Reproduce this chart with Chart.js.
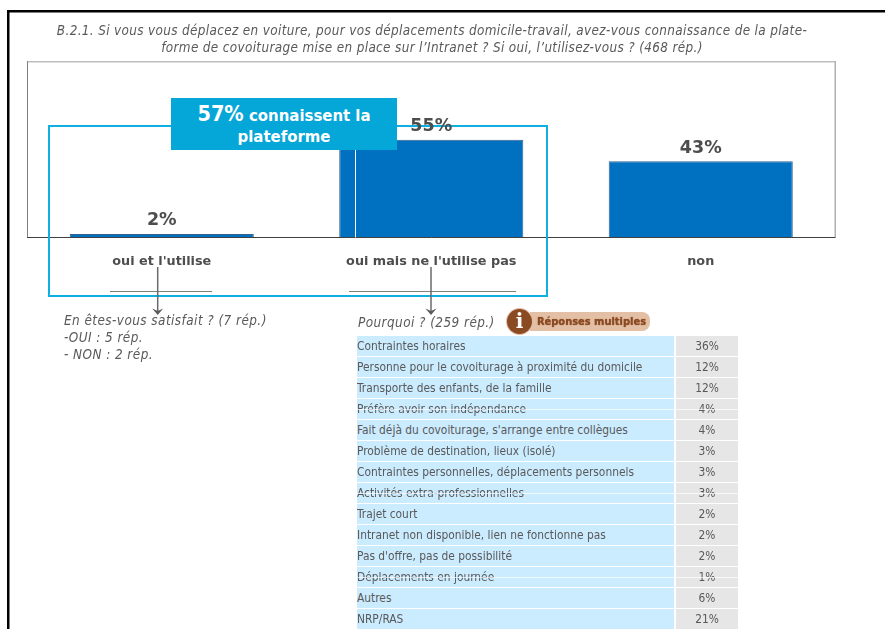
<!DOCTYPE html>
<html lang="fr"><head><meta charset="utf-8">
<style>
html,body{margin:0;padding:0;background:#fff;width:885px;height:629px;overflow:hidden}
#wrap{position:relative;width:885px;height:629px;overflow:hidden}
canvas{position:absolute;left:0;top:0}
.a{position:absolute;white-space:nowrap}
#title{left:20px;width:824px;top:22px;text-align:center;font:italic 13.4px/17px "DejaVu Sans Condensed","DejaVu Sans";color:#595959;letter-spacing:.35px}
#callout{left:171px;top:98px;width:226px;height:52px;background:#05a6d8;color:#fff;text-align:center;font:bold 16.6px/21px "DejaVu Sans Condensed","DejaVu Sans";padding-top:5px;box-sizing:border-box}
#callout b{font-size:21.5px}
.note{font:italic 13.4px/17px "DejaVu Sans Condensed","DejaVu Sans";color:#595959;letter-spacing:.45px}
#badge{left:530px;top:312px;width:120px;height:19px;background:#e3bfa5;border-radius:0 8px 8px 0;color:#8a4a22;font:bold 11px/19px "DejaVu Sans Condensed","DejaVu Sans";text-align:center;text-indent:3px;text-shadow:0 0 1px #8a4a22}
#icon{left:507px;top:309px;width:25px;height:25px;border-radius:50%;background:#8a4a22;box-sizing:border-box;box-shadow:0 0 0 1px #e3bfa5;color:#fff;font:bold 20px/25px "DejaVu Serif";text-align:center}
.c1,.c2{position:absolute;height:20px;color:#595959;font:11.85px/20px "DejaVu Sans Condensed","DejaVu Sans"}
.c1{left:357px;width:317px;background:#cbebff}
.c2{left:676px;width:62px;background:#e6e6e6;text-align:center}
.w{position:absolute;left:357px;width:381px;height:1px;background:#fff;opacity:.7}
</style></head><body><div id="wrap"><canvas id="c" width="885" height="629"></canvas>
<div class="a" id="title">B.2.1. Si vous vous déplacez en voiture, pour vos déplacements domicile-travail, avez-vous connaissance de la plate-<br>forme de covoiturage mise en place sur l’Intranet ? Si oui, l’utilisez-vous ? (468 rép.)</div>
<div class="a" id="callout"><b>57%</b> connaissent la<br>plateforme</div>
<div class="a note" style="left:64px;top:312px">En êtes-vous satisfait ? (7 rép.)<br>-OUI : 5 rép.<br>- NON : 2 rép.</div>
<div class="a note" style="left:358px;top:314px">Pourquoi ? (259 rép.)</div>
<div class="a" id="badge">Réponses multiples</div>
<div class="a" id="icon">i</div>
<div id="tbl"></div></div>
<script src="https://cdn.jsdelivr.net/npm/chart.js@4"></script>
<script>
const categories=["oui et l'utilise","oui mais ne l'utilise pas","non"];
const shares=[2,55,43];
const reasons=["Contraintes horaires","Personne pour le covoiturage à proximité du domicile","Transporte des enfants, de la famille","Préfère avoir son indépendance","Fait déjà du covoiturage, s'arrange entre collègues","Problème de destination, lieux (isolé)","Contraintes personnelles, déplacements personnels","Activités extra-professionnelles","Trajet court","Intranet non disponible, lien ne fonctionne pas","Pas d'offre, pas de possibilité","Déplacements en journée","Autres","NRP/RAS"];
const reasonShares=[36,12,12,4,4,3,3,3,2,2,2,1,6,21];
const splitRows=[3,7,11];

const tbl=document.getElementById('tbl');
reasons.forEach((r,i)=>{
  const y=336+i*21;
  const a=document.createElement('div');a.className='c1';a.style.top=y+'px';a.textContent=r;tbl.appendChild(a);
  const b=document.createElement('div');b.className='c2';b.style.top=y+'px';b.textContent=reasonShares[i]+'%';tbl.appendChild(b);
  if(splitRows.includes(i)){const w=document.createElement('div');w.className='w';w.style.top=(y+10)+'px';tbl.appendChild(w);}
});

const frame={id:'frame',
  beforeDraw(ch){const c=ch.ctx,{left,right,top,bottom}=ch.chartArea;
    c.save();c.fillStyle='#000';c.fillRect(7,10,878,2.5);c.fillRect(7,10,2.5,619);
    c.fillStyle='#bfbfbf';c.fillRect(left,top,right-left,1.5);
    c.fillStyle='#808080';c.fillRect(left,top,1,bottom-top);
    c.fillStyle='#b0b0b0';c.fillRect(right-1,top,1.5,bottom-top);c.restore();},
  afterDraw(ch){const c=ch.ctx,{left,right,bottom}=ch.chartArea,m=ch.getDatasetMeta(0);
    c.save();
    c.strokeStyle='#404040';c.lineWidth=1;c.beginPath();c.moveTo(left,bottom);c.lineTo(right,bottom);c.stroke();
    c.fillStyle='#fff';c.fillRect(355,150,1,bottom-150);
    c.strokeStyle='#0db0e0';c.lineWidth=2;c.strokeRect(49,126,498,170);
    c.font='bold 17.5px "DejaVu Sans"';c.fillStyle='#4d4d4d';c.textAlign='center';c.textBaseline='alphabetic';
    shares.forEach((v,i)=>{const b=m.data[i];c.fillText(v+'%',b.x,b.y-8.5);});
    c.strokeStyle='#7f7f7f';c.lineWidth=1;
    [[110,212],[349,516]].forEach(([a,b])=>{c.beginPath();c.moveTo(a,291.5);c.lineTo(b,291.5);c.stroke();});
    c.strokeStyle='#6a6a6a';c.fillStyle='#5a5a5a';c.lineWidth=1.5;
    [157.7,431].forEach(x=>{c.beginPath();c.moveTo(x,267);c.lineTo(x,312);c.stroke();
      c.beginPath();c.moveTo(x,315);c.lineTo(x-5.5,308.5);c.lineTo(x,311);c.lineTo(x+5.5,308.5);c.closePath();c.fill();});
    c.restore();}};

new Chart(document.getElementById('c'),{type:'bar',
  data:{labels:categories,datasets:[{data:shares,backgroundColor:'#0070c0',borderColor:'#35628f',borderWidth:1,barPercentage:.683,categoryPercentage:1}]},
  options:{responsive:false,animation:false,
    layout:{padding:{left:27,right:49.5,top:61,bottom:0}},
    plugins:{legend:{display:false},tooltip:{enabled:false}},
    scales:{
      y:{display:false,min:0,max:99.4},
      x:{afterFit(s){s.height=391.5;},grid:{display:false},border:{display:false},
        ticks:{color:'#4d4d4d',font:{family:'"DejaVu Sans"',weight:'bold',size:12.8},padding:8,maxRotation:0}}
    }},
  plugins:[frame]});
</script></body></html>
